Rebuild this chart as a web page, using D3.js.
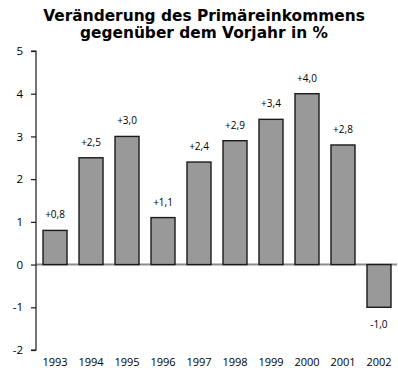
<!DOCTYPE html>
<html>
<head>
<meta charset="utf-8">
<script src="https://cdn.jsdelivr.net/npm/d3@7"></script>
<style>
  body { margin: 0; background: #fff; }
  svg { display: block; }
</style>
</head>
<body>
<svg id="chart" width="398" height="368"></svg>
<script>
// Veränderung des Primäreinkommens, Vorjahresvergleich in %
const years = ["1993", "1994", "1995", "1996", "1997", "1998", "1999", "2000", "2001", "2002"];
const values = [0.8, 2.5, 3.0, 1.1, 2.4, 2.9, 3.4, 4.0, 2.8, -1.0];
const yTicks = [-2, -1, 0, 1, 2, 3, 4, 5];
const titleLines = ["Veränderung des Primäreinkommens", "gegenüber dem Vorjahr in %"];

const bodyFont = "\"Open Sans\", \"DejaVu Sans\", sans-serif";
const titleFont = "\"DejaVu Sans\", sans-serif";

const svg = d3.select("#chart");
const axisX = 36;

const x = d3.scaleBand().domain(years).range([37, 397]).paddingInner(0.333).paddingOuter(0.167);
const y = d3.scaleLinear().domain([-2, 5]).range([350, 51]);

const fmt = v => (v > 0 ? "+" : "") + v.toFixed(1).replace(".", ",");

// Title
svg.append("g").selectAll("text").data(titleLines).join("text")
  .attr("x", 204).attr("y", (d, i) => 21 + i * 16.5)
  .attr("text-anchor", "middle")
  .style("font-family", titleFont)
  .style("font-size", "15.4px").style("font-weight", "bold").attr("fill", "#000")
  .text(d => d);

// Zero line
svg.append("line")
  .attr("x1", axisX).attr("x2", 397)
  .attr("y1", y(0)).attr("y2", y(0))
  .attr("stroke", "#8c8c8c").attr("stroke-width", 2);

// Bars
svg.append("g").selectAll("rect").data(values).join("rect")
  .attr("x", (d, i) => x(years[i]))
  .attr("width", x.bandwidth())
  .attr("y", d => y(Math.max(0, d)))
  .attr("height", d => Math.abs(y(d) - y(0)))
  .attr("fill", "#999999").attr("stroke", "#1a1a1a").attr("stroke-width", 1.4);

// Value labels
svg.append("g").selectAll("text").data(values).join("text")
  .attr("x", (d, i) => x(years[i]) + x.bandwidth() / 2)
  .attr("y", d => d >= 0 ? y(d) - 12 : y(d) + 21)
  .attr("text-anchor", "middle")
  .style("font-family", bodyFont).style("font-size", "10px").attr("fill", "#000")
  .text(d => fmt(d));

// Y axis
const yAxis = d3.axisLeft(y).tickValues(yTicks).tickSize(5).tickPadding(8)
  .tickFormat(d => String(d));
const gy = svg.append("g").attr("transform", `translate(${axisX},0)`).call(yAxis);
gy.select(".domain").attr("stroke", "#1a1a1a").attr("stroke-width", 1.2)
  .attr("d", `M-5,${y(5)}H0V${y(-2)}H-5`);
gy.selectAll(".tick line").attr("stroke", "#1a1a1a").attr("stroke-width", 1.2);
gy.selectAll(".tick text").attr("fill", "#000")
  .style("font-family", bodyFont).style("font-size", "11.5px");

// Year labels
svg.append("g").selectAll("text").data(years).join("text")
  .attr("x", d => x(d) + x.bandwidth() / 2)
  .attr("y", 366)
  .attr("text-anchor", "middle")
  .style("font-family", bodyFont).style("font-size", "11px").attr("fill", "#000")
  .text(d => d);
</script>
</body>
</html>
